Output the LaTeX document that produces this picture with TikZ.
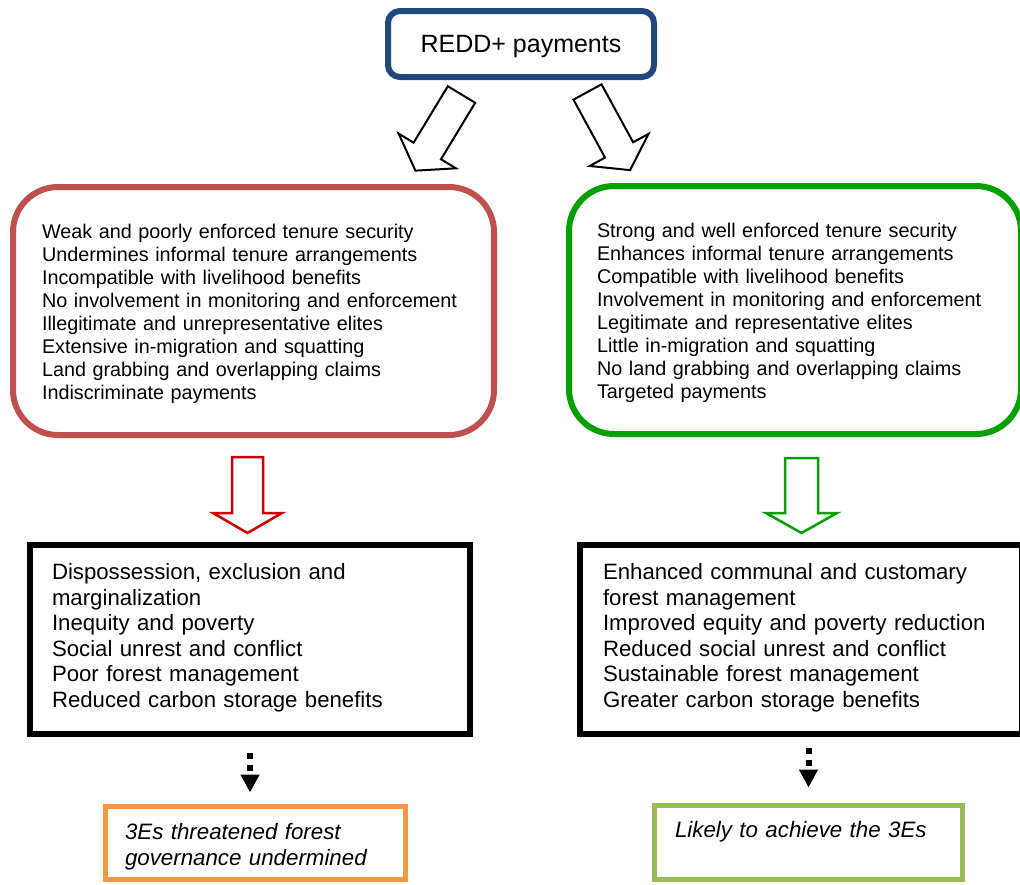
\documentclass[tikz,border=0pt]{standalone}
\usepackage{fontspec}
\setmainfont{Liberation Sans}
\usetikzlibrary{arrows.meta}
\definecolor{reddblue}{RGB}{31,73,125}
\definecolor{weakred}{RGB}{192,80,77}
\definecolor{arrowred}{RGB}{204,0,0}
\definecolor{stronggreen}{RGB}{0,160,0}
\definecolor{govorange}{RGB}{247,150,70}
\definecolor{goalgreen}{RGB}{155,187,89}
\tikzset{
  box/.style={draw, line width=6pt, align=left, inner ysep=0pt},
  listfont/.style={font=\fontsize{19.8}{23}\selectfont, text height=20.2pt},
  resfont/.style={font=\fontsize{22.2}{25.5}\selectfont, text height=13pt},
  endfont/.style={font=\fontsize{22.3}{26}\selectfont\itshape},
  dotarrow/.style={line width=6pt, dash pattern=on 6pt off 6pt,
    -{Triangle[width=18pt,length=18pt]}},
  pics/hollowarrow/.style n args={4}{code={
    \draw[fill=white] (0,-#3) -- (#1-#2,-#3) -- (#1-#2,-#4) -- (#1,0)
      -- (#1-#2,#4) -- (#1-#2,#3) -- (0,#3) -- cycle;
  }}
}
\begin{document}
\begin{tikzpicture}[x=1pt, y=-1pt]
    \useasboundingbox (0,0) rectangle (1020,884);
    \fill[white] (0,0) rectangle (1020,884);
    \clip (0,0) rectangle (1020,884);
    % Riquadro in alto
    \node[box, draw=reddblue, rounded corners=12pt, minimum width=266pt,
      minimum height=66pt, font=\fontsize{25}{30}\selectfont, text height=21.9pt]
      (redd) at (521,44) {REDD+ payments};
    \pic[rotate=238.8, line width=2pt] at (461.5,94.5) {hollowarrow={89}{23}{16}{33.5}};
    \pic[rotate=298.6, line width=2pt] at (587.5,92) {hollowarrow={89}{23}{16}{33.5}};
    % Ramo a sinistra
    \node[box, listfont, draw=weakred, rounded corners=45pt, minimum height=248pt,
      inner xsep=29pt, text width=423pt] (weak) at (253.5,311) {%
      Weak and poorly enforced tenure security\\
      Undermines informal tenure arrangements\\
      Incompatible with livelihood benefits\\
      No involvement in monitoring and enforcement\\
      Illegitimate and unrepresentative elites\\
      Extensive in-migration and squatting\\
      Land grabbing and overlapping claims\\
      Indiscriminate payments};
    \pic[rotate=270, arrowred, line width=2.5pt] at (247.5,457) {hollowarrow={76}{20}{15.5}{34.5}};
    \node[box, resfont, minimum height=189pt, inner xsep=22pt, text width=396pt]
      (lres) at (250,639.5) {%
      Dispossession, exclusion and\\
      marginalization\\
      Inequity and poverty\\
      Social unrest and conflict\\
      Poor forest management\\
      Reduced carbon storage benefits};
    \node[box, endfont, draw=govorange, line width=5pt, minimum height=73pt,
      inner xsep=19.5pt, text width=261pt, text height=23.9pt] (lgov) at (255.5,843) {%
      3Es threatened forest\\
      governance undermined};
    \draw[dotarrow, shorten <=16pt, shorten >=11.5pt] (lres.south) -- (lres.south |- lgov.north);
    % Ramo a destra
    \node[box, listfont, draw=stronggreen, rounded corners=45pt, minimum width=452pt,
      minimum height=248pt, inner xsep=28pt, text width=396pt] (strong) at (795,310) {%
      Strong and well enforced tenure security\\
      Enhances informal tenure arrangements\\
      Compatible with livelihood benefits\\
      Involvement in monitoring and enforcement\\
      Legitimate and representative elites\\
      Little in-migration and squatting\\
      No land grabbing and overlapping claims\\
      Targeted payments};
    \pic[rotate=270, stronggreen, line width=2.5pt] at (801.5,458) {hollowarrow={75}{20}{16.5}{35.5}};
    \node[box, resfont, minimum height=189pt, inner xsep=23pt, text width=396pt]
      (rres) at (801,639.5) {%
      Enhanced communal and customary\\
      forest management\\
      Improved equity and poverty reduction\\
      Reduced social unrest and conflict\\
      Sustainable forest management\\
      Greater carbon storage benefits};
    \node[box, endfont, draw=goalgreen, line width=5pt, minimum height=74pt,
      inner xsep=20.5pt, text width=267pt, text depth=25.7pt] (goal) at (808.5,842.5) {%
      Likely to achieve the 3Es};
    \draw[dotarrow, shorten <=11pt, shorten >=15.5pt] (goal.north |- rres.south) -- (goal.north);
\end{tikzpicture}
\end{document}
